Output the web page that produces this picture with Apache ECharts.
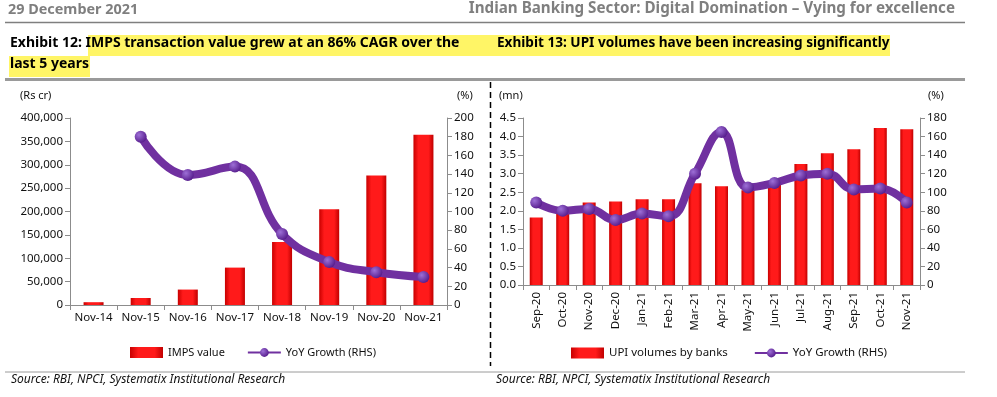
<!DOCTYPE html>
<html>
<head>
<meta charset="utf-8">
<script src="https://cdn.jsdelivr.net/npm/echarts@6/dist/echarts.min.js"></script>
<style>
  html, body { margin: 0; padding: 0; background: #fff; }
  #chart { width: 997px; height: 397px; }
</style>
</head>
<body>
<div id="chart"></div>
<script>
// Exhibit 12 - IMPS
var impsCats = ['Nov-14', 'Nov-15', 'Nov-16', 'Nov-17', 'Nov-18', 'Nov-19', 'Nov-20', 'Nov-21'];
var impsValue = [6000, 15000, 33000, 80000, 135000, 205000, 277000, 364000];
var impsYoy = [null, 180, 139, 148, 76, 46, 35, 30];

// Exhibit 13 - UPI
var upiCats = ['Sep-20', 'Oct-20', 'Nov-20', 'Dec-20', 'Jan-21', 'Feb-21', 'Mar-21', 'Apr-21',
               'May-21', 'Jun-21', 'Jul-21', 'Aug-21', 'Sep-21', 'Oct-21', 'Nov-21'];
var upiVolume = [1.82, 2.05, 2.22, 2.25, 2.31, 2.31, 2.74, 2.66, 2.55, 2.70, 3.26, 3.55, 3.66, 4.23, 4.20];
var upiYoy = [89, 80, 82, 70, 77, 74, 120, 165, 105, 110, 118, 120, 103, 104, 89];

var FONT = '"Noto Sans", "Open Sans", sans-serif';
var AXIS_GREY = '#8c8c8c';
var HILITE = '#fff566';

var barColor = new echarts.graphic.LinearGradient(0, 0, 1, 0, [
  { offset: 0, color: '#c80000' },
  { offset: 0.25, color: '#ff1a1a' },
  { offset: 0.75, color: '#ff1a1a' },
  { offset: 1, color: '#c00000' }
]);
var dotColor = new echarts.graphic.RadialGradient(0.35, 0.35, 0.7, [
  { offset: 0, color: '#9d6fd6' },
  { offset: 1, color: '#561c8c' }
]);

function valueAxis(gi, min, max, step, fmt, pos) {
  return {
    type: 'value', gridIndex: gi, position: pos,
    min: min, max: max, interval: step,
    splitLine: { show: false },
    axisLine: { show: true, lineStyle: { color: AXIS_GREY, width: 1 } },
    axisTick: { show: true, length: 5, lineStyle: { color: AXIS_GREY } },
    axisLabel: { color: '#111', fontFamily: FONT, fontSize: 11.5, margin: 7, formatter: fmt }
  };
}

function catAxis(gi, cats, rotate) {
  return {
    type: 'category', gridIndex: gi, data: cats,
    axisLine: { lineStyle: { color: AXIS_GREY, width: 1 } },
    axisTick: { show: true, length: 5, lineStyle: { color: AXIS_GREY } },
    axisLabel: { color: '#111', fontFamily: FONT, fontSize: 11.5, rotate: rotate, margin: 7, interval: 0 }
  };
}

function lineSeries(name, xi, yi, data) {
  return {
    name: name, type: 'line', xAxisIndex: xi, yAxisIndex: yi,
    data: data, smooth: 0.45, connectNulls: true,
    symbol: 'circle', symbolSize: 12,
    lineStyle: { color: '#7030a0', width: 8 },
    itemStyle: { color: dotColor, borderWidth: 0 },
    z: 3
  };
}

function titleText(txt, x, y, size) {
  return {
    type: 'text', left: x, top: y, z: 2,
    style: { text: txt, fontFamily: FONT, fontSize: size, fontWeight: 'bold', fill: '#000' }
  };
}

var chart = echarts.init(document.getElementById('chart'));

chart.setOption({
  animation: false,
  grid: [
    { left: 70, right: 550, top: 118, bottom: 92 },
    { left: 523, right: 77, top: 118, bottom: 112 }
  ],
  legend: [
    {
      left: 125, top: 342, itemWidth: 33, itemHeight: 11, itemGap: 22,
      textStyle: { fontFamily: FONT, fontSize: 11, color: '#111' },
      data: [{ name: 'IMPS value', icon: 'rect' }, { name: 'YoY Growth (RHS)' }]
    },
    {
      left: 566, top: 342, itemWidth: 33, itemHeight: 11, itemGap: 26,
      textStyle: { fontFamily: FONT, fontSize: 11.5, color: '#111' },
      data: [{ name: 'UPI volumes by banks', icon: 'rect' }, { name: 'YoY Growth (RHS) ' }]
    }
  ],
  xAxis: [catAxis(0, impsCats, 0), catAxis(1, upiCats, 90)],
  yAxis: [
    valueAxis(0, 0, 400000, 50000, function (v) { return v.toLocaleString('en-US'); }, 'left'),
    valueAxis(0, 0, 200, 20, null, 'right'),
    valueAxis(1, 0, 4.5, 0.5, function (v) { return v.toFixed(1); }, 'left'),
    valueAxis(1, 0, 180, 20, null, 'right')
  ],
  series: [
    {
      name: 'IMPS value', type: 'bar', xAxisIndex: 0, yAxisIndex: 0,
      data: impsValue, barWidth: 20, itemStyle: { color: barColor }
    },
    lineSeries('YoY Growth (RHS)', 0, 1, impsYoy),
    {
      name: 'UPI volumes by banks', type: 'bar', xAxisIndex: 1, yAxisIndex: 2,
      data: upiVolume, barWidth: 13, itemStyle: { color: barColor }
    },
    lineSeries('YoY Growth (RHS) ', 1, 3, upiYoy)
  ],
  graphic: [
    // page header
    { type: 'text', left: 8, top: 3, style: { text: '29 December 2021', fontFamily: FONT, fontSize: 14.4, fontWeight: 'bold', fill: '#7f7f7f' } },
    { type: 'text', right: 42, top: 1, style: { text: 'Indian Banking Sector: Digital Domination \u2013 Vying for excellence', fontFamily: FONT, fontSize: 15.2, fontWeight: 'bold', fill: '#7f7f7f' } },
    { type: 'line', shape: { x1: 5, y1: 22.5, x2: 965, y2: 22.5 }, style: { stroke: '#7f7f7f', lineWidth: 1.5 } },
    // exhibit titles with highlight bands
    { type: 'rect', shape: { x: 88, y: 35, width: 802, height: 21 }, style: { fill: HILITE }, z: 1 },
    { type: 'rect', shape: { x: 9, y: 56, width: 81, height: 21 }, style: { fill: HILITE }, z: 1 },
    titleText('Exhibit 12: IMPS transaction value grew at an 86% CAGR over the', 10, 36, 14),
    titleText('last 5 years', 10, 57, 14),
    titleText('Exhibit 13: UPI volumes have been increasing significantly', 497, 36, 13.6),
    { type: 'line', shape: { x1: 5, y1: 79.5, x2: 965, y2: 79.5 }, style: { stroke: '#9a9a9a', lineWidth: 3 } },
    // separator
    { type: 'line', shape: { x1: 490.5, y1: 82, x2: 490.5, y2: 366 }, style: { stroke: '#000', lineWidth: 1.5, lineDash: [6, 4] } },
    // axis units
    { type: 'text', left: 20, top: 90, style: { text: '(Rs cr)', fontFamily: FONT, fontSize: 11, fill: '#111' } },
    { type: 'text', left: 457, top: 90, style: { text: '(%)', fontFamily: FONT, fontSize: 11, fill: '#111' } },
    { type: 'text', left: 499, top: 90, style: { text: '(mn)', fontFamily: FONT, fontSize: 11, fill: '#111' } },
    { type: 'text', left: 928, top: 90, style: { text: '(%)', fontFamily: FONT, fontSize: 11, fill: '#111' } },
    // sources
    { type: 'line', shape: { x1: 5, y1: 372, x2: 965, y2: 372 }, style: { stroke: '#9a9a9a', lineWidth: 1 } },
    { type: 'text', left: 11, top: 374, style: { text: 'Source: RBI, NPCI, Systematix Institutional Research', fontFamily: FONT, fontSize: 12, fontStyle: 'italic', fill: '#111' } },
    { type: 'text', left: 496, top: 374, style: { text: 'Source: RBI, NPCI, Systematix Institutional Research', fontFamily: FONT, fontSize: 12, fontStyle: 'italic', fill: '#111' } }
  ]
});
</script>
</body>
</html>
